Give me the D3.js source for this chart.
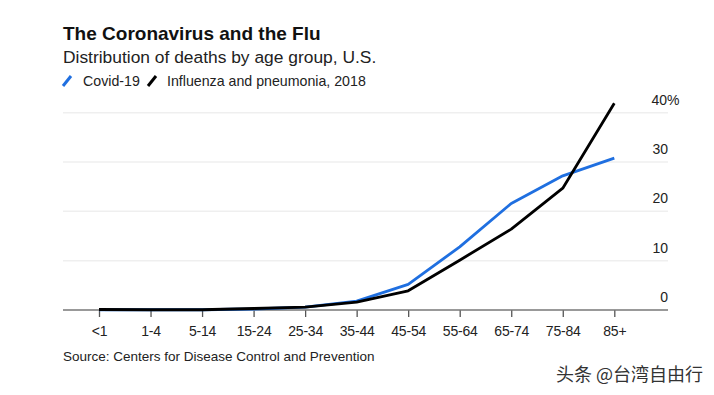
<!DOCTYPE html>
<html><head><meta charset="utf-8">
<script src="https://cdn.jsdelivr.net/npm/d3@7"></script>
<style>
html,body{margin:0;padding:0;background:#fff;}
svg{display:block;font-family:"Liberation Sans",Arial,Helvetica,sans-serif;}
</style></head>
<body><svg id="c" width="714" height="395"></svg>
<script>
const categories = ["<1","1-4","5-14","15-24","25-34","35-44","45-54","55-64","65-74","75-84","85+"];
const covid = [0.05,0.05,0.05,0.2,0.6,1.8,5.2,12.8,21.6,27.2,30.8];
const flu = [0.1,0.05,0.05,0.3,0.6,1.6,3.9,10.1,16.4,24.7,41.9];
const yTicks = [0,10,20,30,40];
const seriesNames = ["Covid-19","Influenza and pneumonia, 2018"];
const colors = ["#1f6fe0","#000000"];

(function(){
const svg = d3.select("#c");
const pL = 63, pR = 668, pT = 112.7, pB = 310;
const x = d3.scalePoint().domain(categories).range([99, 614.3]);
const y = d3.scaleLinear().domain([0,40]).range([pB, pT]);

// gridlines
svg.append("g").selectAll("line").data(yTicks.slice(1)).join("line")
  .attr("x1", pL).attr("x2", pR)
  .attr("y1", d=>y(d)).attr("y2", d=>y(d))
  .attr("stroke","#efefef").attr("stroke-width",1.5);

// y labels
svg.append("g").selectAll("text").data(yTicks).join("text")
  .attr("x", pR).attr("y", d=>y(d)-8)
  .attr("text-anchor","end")
  .attr("font-size","14px").attr("fill","#222")
  .text(d=>d)
  .each(function(d){ if(d===40){ d3.select(this).attr("text-anchor","start").attr("x", 651.5).text("40%"); } });

// x axis
const xAxis = d3.axisBottom(x).tickSize(7).tickSizeOuter(0).tickPadding(9);
const gx = svg.append("g").attr("transform",`translate(0,${pB})`).call(xAxis);
gx.select(".domain").remove();
gx.selectAll(".tick line").attr("stroke","#555").attr("stroke-width",1.3);
gx.selectAll(".tick text").attr("font-size","14px").attr("fill","#222")
  .attr("font-family","'Liberation Sans',Arial,sans-serif")
  .style("letter-spacing","-0.2px");
svg.append("line").attr("x1",pL).attr("x2",pR).attr("y1",pB).attr("y2",pB)
  .attr("stroke","#777").attr("stroke-width",1.5);

// lines
const line = d3.line().x((d,i)=>x(categories[i])).y(d=>y(d));
[covid, flu].forEach((s,i)=>{
  svg.append("path").datum(s).attr("d",line).attr("fill","none")
    .attr("stroke",colors[i]).attr("stroke-width",2.8).attr("stroke-linejoin","round");
});

// title
svg.append("text").attr("x",63).attr("y",40).attr("font-size","19px").attr("font-weight","bold").attr("fill","#111")
  .text("The Coronavirus and the Flu");
svg.append("text").attr("x",63).attr("y",63).attr("font-size","17.4px").attr("fill","#222")
  .text("Distribution of deaths by age group, U.S.");

// legend
const lg = svg.append("g");
const legX = [63, 148];
const legTX = [83, 167];
seriesNames.forEach((n,i)=>{
  lg.append("line").attr("x1",legX[i]).attr("y1",86).attr("x2",legX[i]+8).attr("y2",76)
    .attr("stroke",colors[i]).attr("stroke-width",3);
  lg.append("text").attr("x",legTX[i]).attr("y",86).attr("font-size","14.2px").attr("fill","#222").text(n);
});

// source
svg.append("text").attr("x",63).attr("y",361).attr("font-size","13.5px").attr("fill","#222")
  .text("Source: Centers for Disease Control and Prevention");

// watermark
svg.append("text").attr("x",703).attr("y",381).attr("text-anchor","end").attr("font-size","18px").attr("fill","#333")
  .attr("font-family","'Noto Sans CJK SC',sans-serif")
  .text("头条 @台湾自由行");
})();
</script></body></html>
